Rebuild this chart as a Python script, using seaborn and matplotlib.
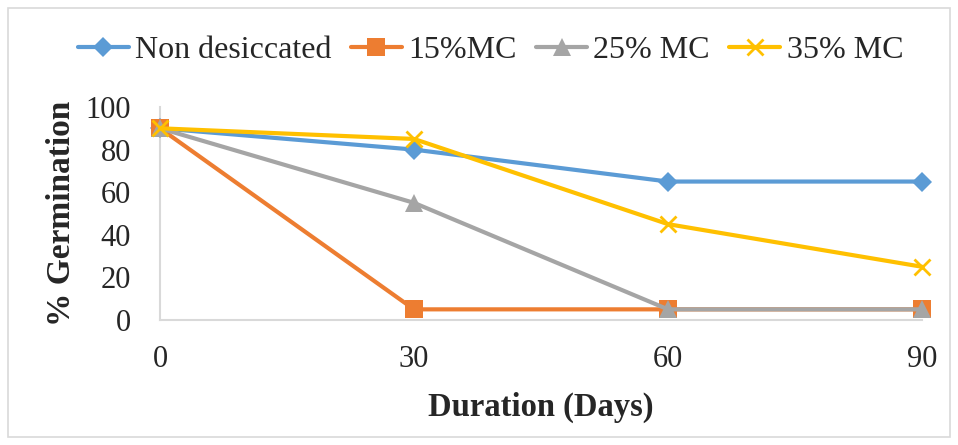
import matplotlib
matplotlib.use("Agg")
import matplotlib.pyplot as plt
import pandas as pd
import seaborn as sns

days = [0, 30, 60, 90]
series_names = ["Non desiccated", "15%MC", "25% MC", "35% MC"]
non_desiccated = [90, 80, 65, 65]
mc15 = [90, 5, 5, 5]
mc25 = [90, 55, 5, 5]
mc35 = [90, 85, 45, 25]
y_ticks = [0, 20, 40, 60, 80, 100]

colors = ["#5B9BD5", "#ED7D31", "#A5A5A5", "#FFC000"]
markers = ["D", "s", "^", "x"]
msizes = [10.5, 13, 13, 12]

table = {"days": [], "germination": [], "series": []}
for name, vals in zip(series_names, [non_desiccated, mc15, mc25, mc35]):
    for d, v in zip(days, vals):
        table["days"].append(d)
        table["germination"].append(v)
        table["series"].append(name)
df = pd.DataFrame(table)

sns.set_theme(style="white")
plt.rcParams["font.family"] = ["Liberation Serif", "DejaVu Serif"]

fig = plt.figure(figsize=(9.58, 4.45), dpi=100)
ax = fig.add_axes([160 / 958, 1 - 320 / 445, (922 - 160) / 958, (320 - 107) / 445])

for name, c, m, ms in zip(series_names, colors, markers, msizes):
    sub = df[df["series"] == name]
    sns.lineplot(data=sub, x="days", y="germination", color=c, marker=m,
                 markersize=ms, markeredgewidth=2 if m == "x" else 0,
                 markeredgecolor=c, linewidth=3, ax=ax, label=name, zorder=3)

ax.set_xlim(0, 90)
ax.set_ylim(0, 100)
ax.set_xticks(days)
ax.set_yticks(y_ticks)
ax.tick_params(axis="both", labelsize=22, length=0)
ax.tick_params(axis="y", pad=21)
ax.tick_params(axis="x", pad=18)
for s in ["top", "right"]:
    ax.spines[s].set_visible(False)
for s in ["left", "bottom"]:
    ax.spines[s].set_color("#D9D9D9")
    ax.spines[s].set_linewidth(1.5)
    ax.spines[s].set_zorder(1)
for line in ax.lines:
    line.set_clip_on(False)

ax.set_xlabel("Duration (Days)", fontsize=23.5, fontweight="bold", labelpad=13)
ax.set_ylabel("% Germination", fontsize=24, fontweight="bold", labelpad=6)

handles, labels = ax.get_legend_handles_labels()
ax.get_legend().remove()
fig.legend(handles, labels, loc="upper center", bbox_to_anchor=(0.512, 0.985), ncol=4,
           frameon=False, fontsize=23, handlelength=1.6, handletextpad=0.2,
           columnspacing=0.6)

border = plt.Rectangle((8 / 958, 8 / 445), 942 / 958, 429 / 445, transform=fig.transFigure,
                       fill=False, edgecolor="#D9D9D9", linewidth=1.2)
fig.patches.append(border)

fig.savefig("out.png", dpi=100)
